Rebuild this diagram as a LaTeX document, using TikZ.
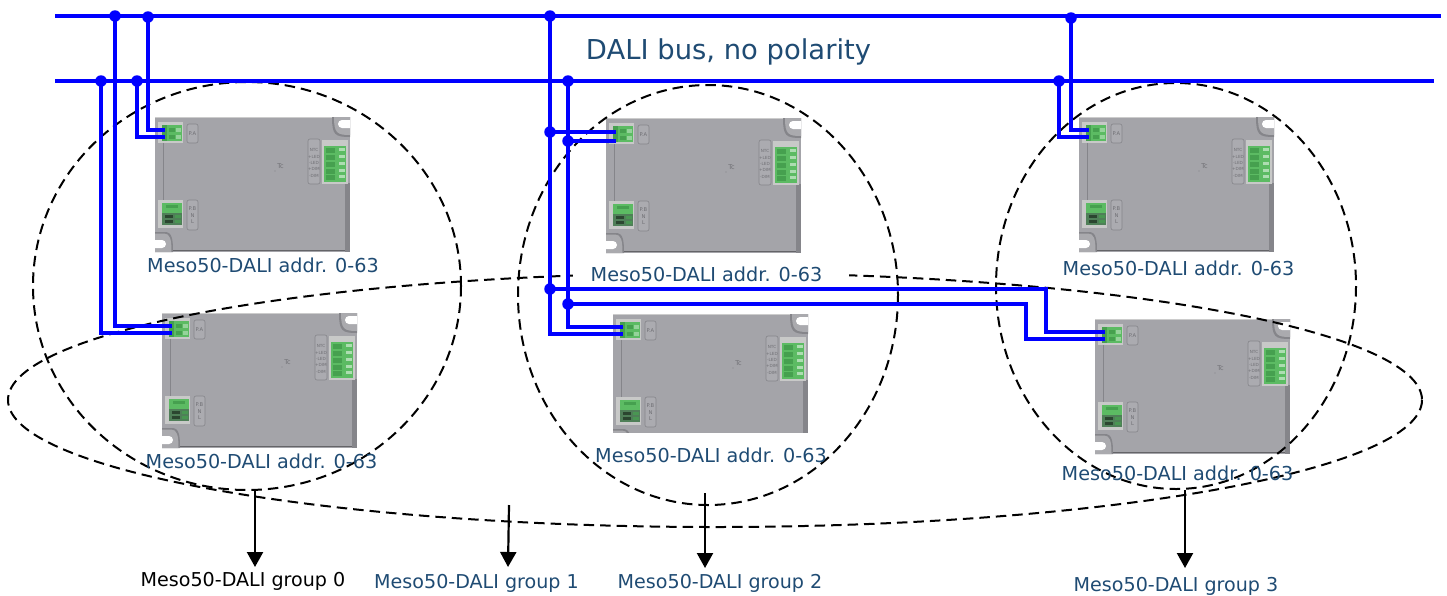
\documentclass[tikz,border=0pt]{standalone}
\usepackage{fontspec}
\setmainfont{DejaVu Sans}
\usetikzlibrary{arrows.meta,calc}
\definecolor{lbl}{HTML}{1F4B73}
\definecolor{bodyg}{HTML}{A4A4A9}
\definecolor{edgeg}{HTML}{85858A}
\definecolor{fr}{HTML}{C8C9C8}
\definecolor{grn}{HTML}{5CBB63}
\definecolor{dgrn}{HTML}{46A04F}
\definecolor{pbg}{HTML}{4F7F58}
\definecolor{tinyt}{HTML}{6F6F74}
\tikzset{
  wire/.style={draw=blue,line width=3.3pt},
  dot/.style={circle,fill=blue,inner sep=0pt,minimum size=11.5pt},
  group/.style={draw=black,line width=2pt,dash pattern=on 10.5pt off 6pt},
  grouparrow/.style={draw=black,line width=2.2pt,-{Triangle[width=16pt,length=15pt]}},
  addrlabel/.style={text=lbl,font=\fontsize{19.2}{22}\selectfont,inner sep=0pt},
  grouplabel/.style={font=\fontsize{19.1}{22}\selectfont,inner sep=0pt},
  tiny/.style={text=tinyt,font=\fontsize{5.2}{5.2}\selectfont,inner sep=0pt},
  plate/.style={draw=edgeg,fill=bodyg!92!white,line width=.6pt,rounded corners=2pt},
  device/.pic={
    \fill[bodyg] (0,0) -- (195,0) -- (195,135) -- (0,135) -- cycle;
    \fill[edgeg] (190,66) rectangle (195,135);
    \draw[line width=1.2pt,white!80!black] (0,.6) -- (195,.6);
    \draw[line width=1.2pt,edgeg!75!black] (18,133.8) -- (190,133.8);
    \draw[line width=.7pt,edgeg] (8,25) -- (8,84);
    \fill[edgeg] (177,0) .. controls (177,18) and (180,20) .. (195,20) -- (195,0) -- cycle;
    \fill[bodyg!94!white] (179,0) .. controls (179,16) and (182,18) .. (195,18) -- (195,0) -- cycle;
    \fill[white] (195,3) -- (187,3) arc[start angle=-90,end angle=-270,radius=4] -- (195,11) -- cycle;
    \fill[edgeg] (0,115) -- (10,115) .. controls (17,115) and (18,122) .. (18,135) -- (0,135) -- cycle;
    \fill[bodyg!94!white] (0,116.5) -- (9,116.5) .. controls (15,116.5) and (16.5,122) .. (16.5,135) -- (0,135) -- cycle;
    \fill[white] (0,123) -- (7,123) arc[start angle=-90,end angle=90,radius=4] -- (0,131) -- cycle;
    \fill[fr] (3,5) rectangle (28,26);
    \fill[grn] (7,8) rectangle (27,24);
    \fill[dgrn] (7,8) rectangle (12,24);
    \foreach \yy in {10.5,17.5}{\fill[dgrn] (14,\yy) rectangle (20,\yy+4); \fill[white!35!grn] (21,\yy) rectangle (26,\yy+4);}
    \draw[plate] (32,7) rectangle (43,26);
    \node[tiny] (-pa) at (37.5,17) {P.A};
    \fill[fr] (3,83) rectangle (28,111);
    \fill[grn] (7,86) rectangle (27,96);
    \fill[pbg] (7,96) rectangle (27,108);
    \fill[dgrn] (11,88) rectangle (23,91);
    \foreach \yy in {98,103}{\fill[black!45!pbg] (10,\yy) rectangle (18,\yy+3);\fill[dgrn!70!pbg] (20,\yy) rectangle (26,\yy+3);}
    \draw[plate] (32,83) rectangle (43,113);
    \node[tiny] (-pb) at (37.5,92) {P.B};
    \node[tiny] (-n) at (37.5,98.5) {N};
    \node[tiny] (-l) at (37.5,105) {L};
    \fill[fr] (167,23) rectangle (193,67);
    \fill[grn] (168.5,29) rectangle (191,65);
    \foreach \yy in {31,38,45,52,58}{\fill[dgrn] (171,\yy) rectangle (180,\yy+4.5); \fill[white!50!grn] (184,\yy) rectangle (190,\yy+3);}
    \draw[plate] (153,22) rectangle (165,67);
    \node[tiny,font=\fontsize{4.2}{4.2}\selectfont] (-ntc) at (159,33) {NTC};
    \node[tiny,font=\fontsize{4.2}{4.2}\selectfont] (-lp) at (159,39.5) {+LED};
    \node[tiny,font=\fontsize{4.2}{4.2}\selectfont] (-lm) at (159,45.5) {-LED};
    \node[tiny,font=\fontsize{4.2}{4.2}\selectfont] (-dp) at (159,52) {+DIM};
    \node[tiny,font=\fontsize{4.2}{4.2}\selectfont] (-dm) at (159,59) {-DIM};
    \node[tiny,font=\fontsize{6.5}{6.5}\selectfont] (-tc) at (125.5,49) {Tc};
    \fill[edgeg] (120,54) circle (.7);
    \coordinate (-w1) at (10,13);
    \coordinate (-w2) at (10,20);
  }
}
\begin{document}
\begin{tikzpicture}[x=1pt,y=-1pt]
\useasboundingbox (0,0) rectangle (1447,595);
% devices
\pic (A) at (155,117) {device};
\pic (B) at (162,313) {device};
\pic (C) at (606,118) {device};
\begin{scope}
  \clip (600,300) rectangle (820,432);
  \pic (D) at (613,314) {device};
\end{scope}
\pic (E) at (1079,117) {device};
\pic (F) at (1095,319) {device};
% dashed groups
\draw[group] (247,286) ellipse [x radius=214,y radius=204];
\draw[group] (708,295) ellipse [x radius=190,y radius=210];
\draw[group] (1176,286) ellipse [x radius=180,y radius=203];
\draw[group] (715,400) ellipse [x radius=707,y radius=127];
\fill[white] (573,262) rectangle (849,286);
% buses
\coordinate (bus1L) at (55,16);
\coordinate (bus1R) at (1441,16);
\coordinate (bus2L) at (55,81);
\coordinate (bus2R) at (1434,81);
\draw[wire] (bus1L) -- (bus1R);
\draw[wire] (bus2L) -- (bus2R);
% junctions
\node[dot] (j1) at (115,16) {};
\node[dot] (j2) at (148,17) {};
\node[dot] (j3) at (101,81) {};
\node[dot] (j4) at (137,81) {};
\node[dot] (j5) at (550,16) {};
\node[dot] (j6) at (568,81) {};
\node[dot] (j7) at (550,132) {};
\node[dot] (j8) at (568,141) {};
\node[dot] (j9) at (550,289) {};
\node[dot] (j10) at (568,304) {};
\node[dot] (j11) at (1071,18) {};
\node[dot] (j12) at (1059,81) {};
% wires
\draw[wire] (j2.center) |- (A-w1);
\draw[wire] (j4.center) |- (A-w2);
\draw[wire] (j1.center) |- (B-w1);
\draw[wire] (j3.center) |- (B-w2);
\draw[wire] (j5.center) -- (j7.center) -- (j9.center) |- (D-w2);
\draw[wire] (j6.center) -- (j8.center) -- (j10.center) |- (D-w1);
\draw[wire] (j7.center) -- (j7.center -| C-w1);
\draw[wire] (j8.center) -- (j8.center -| C-w2);
\draw[wire] (j11.center) |- (E-w1);
\draw[wire] (j12.center) |- (E-w2);
\coordinate (bend1) at (1046,289);
\coordinate (bend2) at (1026,304);
\draw[wire] (j9.center) -- (bend1) |- (F-w1);
\draw[wire] (j10.center) -- (bend2) |- (F-w2);
% labels
\node[text=lbl,font=\fontsize{27.4}{32}\selectfont,inner sep=0pt] (bus) at (728.5,52) {DALI bus, no polarity};
\node[addrlabel] (la) at (263,265.5) {Meso50-DALI addr. 0-63};
\node[addrlabel] (lb) at (261.5,461.5) {Meso50-DALI addr. 0-63};
\node[addrlabel] (lc) at (706.5,274) {Meso50-DALI addr. 0-63};
\node[addrlabel] (ld) at (711,455) {Meso50-DALI addr. 0-63};
\node[addrlabel] (le) at (1178.5,268.5) {Meso50-DALI addr. 0-63};
\node[addrlabel] (lf) at (1177.5,473) {Meso50-DALI addr. 0-63};
\node[grouplabel,text=black] (g0) at (243,581.5) {Meso50-DALI group 0};
\node[grouplabel,text=lbl] (g1) at (476.5,583.5) {Meso50-DALI group 1};
\node[grouplabel,text=lbl] (g2) at (720,583.5) {Meso50-DALI group 2};
\node[grouplabel,text=lbl] (g3) at (1176,586.5) {Meso50-DALI group 3};
% arrows
\coordinate (a0s) at (255,491); \coordinate (a0e) at (255,567);
\coordinate (a1s) at (509,505); \coordinate (a1e) at (508,567);
\coordinate (a2s) at (705,493); \coordinate (a2e) at (705,568);
\coordinate (a3s) at (1185,490); \coordinate (a3e) at (1185,568);
\draw[grouparrow] (a0s) -- (a0e);
\draw[grouparrow] (a1s) -- (a1e);
\draw[grouparrow] (a2s) -- (a2e);
\draw[grouparrow] (a3s) -- (a3e);
\end{tikzpicture}
\end{document}
